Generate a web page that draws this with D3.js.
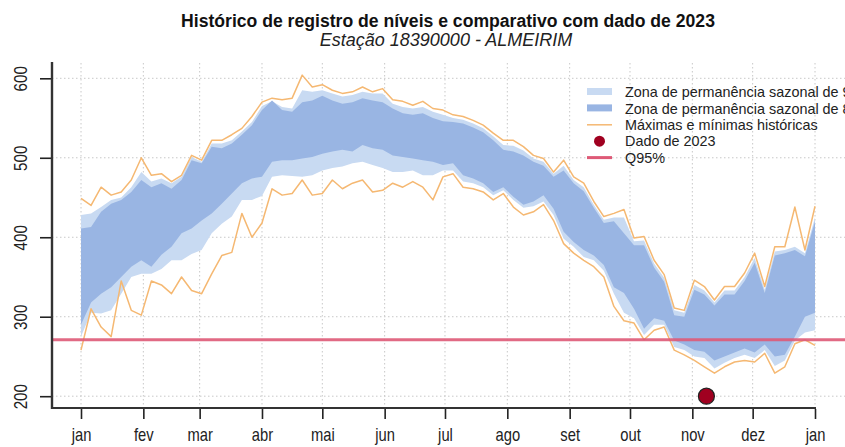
<!DOCTYPE html>
<html>
<head>
<meta charset="utf-8">
<script src="https://cdn.jsdelivr.net/npm/d3@7"></script>
<style>
  html, body { margin: 0; padding: 0; background: #fff; overflow: hidden; }
  svg { display: block; font-family: "Liberation Sans", Arial, sans-serif; }
</style>
</head>
<body>
<script>
'use strict';

// day of year, sampled every 5 days
const days = d3.range(0, 366, 5);

// historical max / min (m)
const maxHist = [449, 440, 463, 453, 457, 472, 500, 478, 480, 470, 478, 503, 497, 522, 522, 529, 537, 552, 570,
  575, 573, 575, 604, 589, 592, 585, 581, 583, 589, 583, 587, 573, 571, 566, 571, 562, 560, 554, 552, 547, 541,
  531, 522, 522, 514, 503, 499, 482, 497, 476, 468, 445, 426, 430, 435, 399, 401, 371, 353, 311, 308, 346, 338,
  321, 338, 338, 355, 380, 338, 388, 388, 438, 384, 439];
const minHist = [258, 310, 287, 275, 345, 308, 302, 345, 340, 329, 350, 333, 329, 354, 377, 381, 430, 400, 418,
  461, 453, 455, 472, 453, 455, 472, 461, 468, 472, 457, 459, 468, 463, 470, 463, 447, 476, 480, 463, 461, 457,
  447, 455, 438, 428, 432, 441, 421, 392, 380, 371, 363, 350, 313, 295, 292, 271, 283, 287, 258, 252, 245, 237,
  229, 237, 243, 245, 243, 254, 229, 237, 266, 271, 264];

// outer seasonal band (light)
const outerUp = [428, 430, 438, 447, 450, 463, 482, 470, 474, 468, 476, 501, 495, 518, 518, 522, 533, 545, 565,
  571, 564, 562, 585, 583, 585, 581, 577, 579, 583, 581, 581, 568, 564, 562, 564, 558, 554, 550, 548, 543, 537,
  527, 516, 515, 509, 499, 495, 480, 490, 472, 463, 441, 422, 425, 425, 395, 396, 367, 349, 308, 305, 340, 333,
  318, 333, 333, 350, 374, 334, 382, 384, 388, 380, 425];
const outerLo = [275, 305, 304, 308, 329, 350, 354, 354, 360, 371, 371, 379, 384, 405, 417, 426, 447, 447, 452,
  476, 478, 477, 476, 478, 484, 487, 489, 493, 495, 491, 487, 482, 482, 484, 478, 478, 484, 484, 470, 468, 463,
  453, 459, 447, 437, 439, 445, 428, 398, 388, 375, 371, 358, 329, 305, 298, 277, 290, 290, 262, 258, 250, 248,
  235, 242, 248, 252, 248, 258, 238, 245, 270, 280, 283];

// inner seasonal band (dark)
const innerUp = [411, 413, 432, 442, 447, 457, 472, 463, 468, 461, 472, 497, 493, 514, 512, 518, 529, 541, 560,
  572, 560, 558, 570, 572, 578, 572, 568, 570, 575, 572, 570, 562, 556, 554, 556, 550, 546, 545, 543, 538, 532,
  522, 510, 508, 503, 495, 490, 476, 484, 468, 458, 437, 418, 420, 405, 390, 390, 362, 344, 302, 300, 334, 328,
  314, 328, 328, 345, 368, 330, 377, 380, 384, 376, 420];
const innerLo = [290, 318, 329, 337, 350, 363, 371, 363, 378, 388, 405, 411, 421, 430, 442, 455, 468, 474, 476,
  495, 497, 497, 499, 501, 505, 508, 510, 508, 516, 512, 510, 503, 501, 499, 497, 495, 491, 493, 478, 474, 468,
  457, 463, 451, 441, 445, 453, 436, 407, 394, 384, 377, 365, 337, 330, 310, 285, 298, 295, 270, 265, 258, 256,
  245, 250, 255, 260, 255, 265, 250, 252, 275, 300, 305];

const q95 = 271;
const obsDay = 311;   // 2023 observation
const obsValue = 200;

const monthDays = [0, 31, 59, 90, 120, 151, 181, 212, 243, 273, 304, 334, 365];
const monthLabels = ['jan', 'fev', 'mar', 'abr', 'mai', 'jun', 'jul', 'ago', 'set', 'out', 'nov', 'dez', 'jan'];
const yTicks = [200, 300, 400, 500, 600];

const legendLabels = ['Zona de permanência sazonal de 90%', 'Zona de permanência sazonal de 80%',
  'Máximas e mínimas históricas', 'Dado de 2023', 'Q95%'];

const width = 845, height = 447;
const cLight = '#c8daf2', cDark = '#99b5e3', cOrange = '#f5b872', cQ = '#de5a77', cDot = '#a00020';

const x = d3.scaleLinear().domain([0, 365]).range([81, 815]);
const y = d3.scaleLinear().domain([200, 600]).range([396.2, 78.3]);

const svg = d3.select('body').append('svg')
  .attr('width', width)
  .attr('height', height);

// grid
const grid = svg.append('g').attr('stroke', '#c8c8c8').attr('stroke-dasharray', '1.5,2.5').attr('stroke-width', 1);
grid.selectAll('line.v').data(monthDays).join('line')
  .attr('class', 'v')
  .attr('x1', d => x(d)).attr('x2', d => x(d))
  .attr('y1', 63).attr('y2', 408);
grid.selectAll('line.h').data(yTicks).join('line')
  .attr('class', 'h')
  .attr('x1', 52).attr('x2', width)
  .attr('y1', d => y(d)).attr('y2', d => y(d));

const idx = d3.range(days.length);
const band = (lo, hi) => d3.area()
  .x(i => x(days[i]))
  .y0(i => y(lo[i]))
  .y1(i => y(hi[i]));
const line = arr => d3.line()
  .x(i => x(days[i]))
  .y(i => y(arr[i]));

svg.append('path').attr('d', band(outerLo, outerUp)(idx)).attr('fill', cLight);
svg.append('path').attr('d', band(innerLo, innerUp)(idx)).attr('fill', cDark);

[maxHist, minHist].forEach(arr => {
  svg.append('path').attr('d', line(arr)(idx))
    .attr('fill', 'none')
    .attr('stroke', cOrange)
    .attr('stroke-width', 1.5)
    .attr('stroke-linejoin', 'round');
});

// Q95 line
svg.append('line')
  .attr('x1', 52).attr('x2', width)
  .attr('y1', y(q95)).attr('y2', y(q95))
  .attr('stroke', cQ).attr('stroke-width', 3.2).attr('stroke-opacity', 0.9);

// 2023 observation
svg.append('circle')
  .attr('cx', x(obsDay)).attr('cy', y(obsValue)).attr('r', 8)
  .attr('fill', cDot).attr('stroke', '#222').attr('stroke-width', 1.2);

// axes (tick labels are drawn condensed, like the reference)
const xAxis = svg.append('g')
  .attr('transform', 'translate(0,409)')
  .call(d3.axisBottom(x).tickValues(monthDays).tickFormat((d, i) => monthLabels[i]).tickSize(10));
xAxis.select('.domain').remove();
xAxis.selectAll('line').attr('stroke', '#222').attr('stroke-width', 1.6);
xAxis.selectAll('text')
  .attr('font-size', 18).attr('fill', '#222')
  .attr('y', 32.5).attr('dy', 0)
  .attr('transform', 'scale(0.82,1)');

svg.append('line').attr('x1', 51).attr('x2', 816).attr('y1', 408).attr('y2', 408)
  .attr('stroke', '#333').attr('stroke-width', 2);

const yAxis = svg.append('g')
  .attr('transform', 'translate(52,0)')
  .call(d3.axisLeft(y).tickValues(yTicks).tickSize(12));
yAxis.select('.domain').remove();
yAxis.selectAll('line').attr('stroke', '#222').attr('stroke-width', 1.6);
yAxis.selectAll('text')
  .attr('font-size', 18.5).attr('fill', '#222')
  .attr('text-anchor', 'middle')
  .attr('x', 0).attr('y', 0).attr('dy', 0)
  .attr('transform', 'translate(-25.5,0) rotate(-90) scale(0.82,1)');

svg.append('line').attr('x1', 52).attr('x2', 52).attr('y1', 62).attr('y2', 409)
  .attr('stroke', '#333').attr('stroke-width', 2.4);

// titles
svg.append('text')
  .attr('x', 448).attr('y', 27)
  .attr('text-anchor', 'middle')
  .attr('font-size', 17.6).attr('font-weight', 'bold').attr('fill', '#111')
  .text('Histórico de registro de níveis e comparativo com dado de 2023');
svg.append('text')
  .attr('x', 446).attr('y', 46)
  .attr('text-anchor', 'middle')
  .attr('font-size', 18).attr('font-style', 'italic').attr('fill', '#222')
  .text('Estação 18390000 - ALMEIRIM');

// legend
const leg = svg.append('g').attr('transform', 'translate(587,92)');
const rowH = 16.4;
leg.selectAll('text').data(legendLabels).join('text')
  .attr('x', 38).attr('y', (d, i) => i * rowH)
  .attr('dy', '0.36em')
  .attr('font-size', 14.4).attr('fill', '#222')
  .text(d => d);
leg.append('rect').attr('x', 0).attr('y', -4).attr('width', 25).attr('height', 7).attr('fill', cLight);
leg.append('rect').attr('x', 0).attr('y', rowH - 4).attr('width', 25).attr('height', 7).attr('fill', cDark);
leg.append('line').attr('x1', 0).attr('x2', 25).attr('y1', 2 * rowH).attr('y2', 2 * rowH)
  .attr('stroke', cOrange).attr('stroke-width', 1.5);
leg.append('circle').attr('cx', 12.5).attr('cy', 3 * rowH).attr('r', 5.5).attr('fill', cDot);
leg.append('line').attr('x1', 0).attr('x2', 25).attr('y1', 4 * rowH).attr('y2', 4 * rowH)
  .attr('stroke', cQ).attr('stroke-width', 3);
</script>
</body>
</html>
